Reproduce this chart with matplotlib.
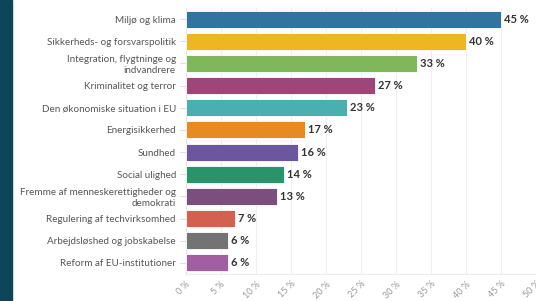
import matplotlib
matplotlib.use("Agg")
import matplotlib.pyplot as plt
from matplotlib.patches import Rectangle

categories = [
    "Miljø og klima",
    "Sikkerheds- og forsvarspolitik",
    "Integration, flygtninge og\nindvandrere",
    "Kriminalitet og terror",
    "Den økonomiske situation i EU",
    "Energisikkerhed",
    "Sundhed",
    "Social ulighed",
    "Fremme af menneskerettigheder og\ndemokrati",
    "Regulering af techvirksomhed",
    "Arbejdsløshed og jobskabelse",
    "Reform af EU-institutioner",
]
values = [45, 40, 33, 27, 23, 17, 16, 14, 13, 7, 6, 6]
colors = ["#2f75a0", "#efb522", "#80b75a", "#9d4679", "#4aafb0", "#e78a22",
          "#6c569f", "#29946a", "#7c4e7d", "#d4614f", "#737373", "#a35ea2"]
xticks = [0, 5, 10, 15, 20, 25, 30, 35, 40, 45, 50]

plt.rcParams['font.family'] = ['Lato', 'DejaVu Sans']

fig = plt.figure(figsize=(5.36, 3.01), dpi=100)
fig.patches.append(Rectangle((0, 0), 12/536, 1, transform=fig.transFigure,
                             color="#0c4658", zorder=0))
ax = fig.add_axes([185.7/536, 1-274/301, (535.7-185.7)/536, (274-8)/301])

y = list(range(len(categories)))
ax.barh(y, values, height=0.77, color=colors, edgecolor="white", linewidth=0.6, zorder=3)
for yi, v in zip(y, values):
    ax.text(v + 0.45, yi, f"{v} %", va="center", ha="left", fontsize=8,
            fontweight="bold", color="#333333")

ax.set_ylim(len(categories) - 0.5, -0.5)
ax.set_xlim(0, 50)
ax.set_yticks(y)
ax.set_yticklabels(categories, fontsize=7.1, color="#555555", linespacing=1.25)
ax.set_xticks(xticks)
ax.set_xticklabels([f"{t} %" for t in xticks], rotation=45, fontsize=6.5,
                   color="#999999", ha="right", va="top", rotation_mode="anchor")
ax.tick_params(axis="y", length=4, color="#dddddd", pad=3)
ax.tick_params(axis="x", length=0, pad=4)
ax.grid(axis="x", color="#eeeeee", linewidth=0.8, zorder=0)
for s in ["top", "right"]:
    ax.spines[s].set_visible(False)
ax.spines["left"].set_color("#e0e0e0")
ax.spines["bottom"].set_color("#eeeeee")

fig.savefig("out.png", dpi=100)
